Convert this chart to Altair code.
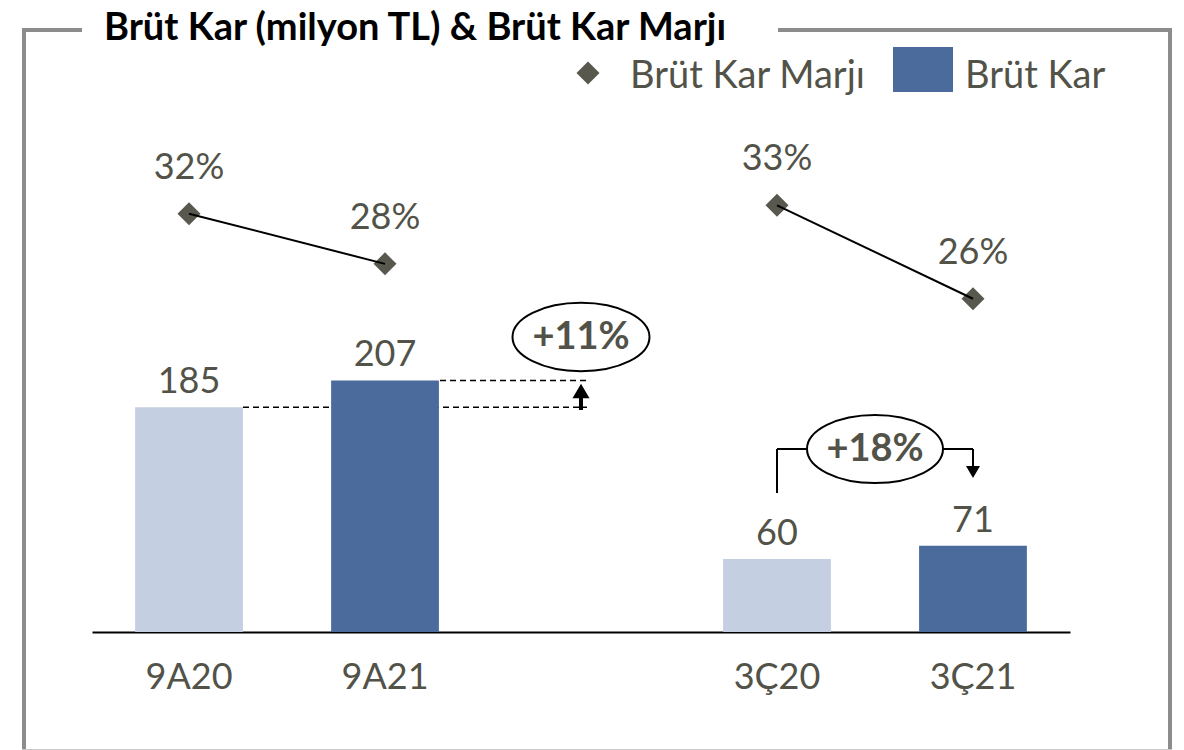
import altair as alt
import pandas as pd

# ---- data ----
categories = ["9A20", "9A21", " ", "3Ç20", "3Ç21"]
bar_periods = ["9A20", "9A21", "3Ç20", "3Ç21"]
bar_values = [185, 207, 60, 71]
bar_years = ["2020", "2021", "2020", "2021"]
margin_values = [32.0, 28.4, 32.6, 25.9]
margin_labels = ["32%", "28%", "33%", "26%"]
margin_groups = ["9A", "9A", "3Ç", "3Ç"]
change_labels = ["+11%", "+18%"]
title_text = "Brüt Kar (milyon TL) & Brüt Kar Marjı"
legend_labels = ["Brüt Kar Marjı", "Brüt Kar"]

TXT = "#525248"
FONT = "Lato"

bars_df = pd.DataFrame({"period": bar_periods, "value": bar_values, "year": bar_years})
margin_df = pd.DataFrame({"period": bar_periods, "m": margin_values,
                          "lab": margin_labels, "grp": margin_groups})
one = pd.DataFrame({"k": [0]})

x_enc = alt.X(
    "period:N",
    sort=categories,
    scale=alt.Scale(domain=categories, paddingInner=0.45, paddingOuter=0.22),
    axis=alt.Axis(title=None, labelFontSize=36, labelColor=TXT, labelFont=FONT,
                  ticks=False, tickSize=0, labelPadding=56, labelBaseline="alphabetic",
                  domainColor="black", domainWidth=2, labelAngle=0, grid=False),
)
y_bar = alt.Y("value:Q", scale=alt.Scale(domain=[0, 413]), axis=None)
y_m = alt.Y("m:Q", scale=alt.Scale(domain=[2, 38]), axis=None)

base_b = alt.Chart(bars_df)

dash_lo = base_b.transform_filter(alt.datum.period == "9A20").mark_rule(
    color="black", strokeWidth=1.5, strokeDash=[6, 4]
).encode(y=y_bar, x=alt.value(151), x2=alt.value(495))
dash_hi = base_b.transform_filter(alt.datum.period == "9A21").mark_rule(
    color="black", strokeWidth=1.5, strokeDash=[6, 4]
).encode(y=y_bar, x=alt.value(348), x2=alt.value(495))

bars = base_b.mark_bar().encode(
    x=x_enc, y=y_bar,
    color=alt.Color("year:N", scale=alt.Scale(domain=["2020", "2021"],
                                              range=["#c4cfe1", "#4a6b9b"]), legend=None),
)
bar_text = base_b.mark_text(dy=-14, baseline="alphabetic", fontSize=36, font=FONT,
                            color=TXT).encode(x=x_enc, y=y_bar, text="value:Q")

ELL = "M-1,0A1,0.5,0,1,0,1,0A1,0.5,0,1,0,-1,0Z"

def ellipse(xp, yp, w):
    return alt.Chart(one).mark_point(shape=ELL, filled=True, fill="white", stroke="black",
                                     strokeWidth=2, opacity=1, size=w * w).encode(
        x=alt.value(xp), y=alt.value(yp))

def label(txt, xp, yp):
    return alt.Chart(pd.DataFrame({"t": [txt]})).mark_text(
        fontSize=38, font=FONT, fontWeight="bold", color=TXT, baseline="middle",
        align="center").encode(x=alt.value(xp), y=alt.value(yp), text="t:N")

def hrule(x1, x2, y, w=2, color="black"):
    return alt.Chart(one).mark_rule(color=color, strokeWidth=w).encode(
        x=alt.value(x1), x2=alt.value(x2), y=alt.value(y))

def vrule(x, y1, y2, w=2, color="black"):
    return alt.Chart(one).mark_rule(color=color, strokeWidth=w).encode(
        x=alt.value(x), y=alt.value(y1), y2=alt.value(y2))

def tri(shape, xp, yp, size):
    return alt.Chart(one).mark_point(shape=shape, filled=True, color="black", opacity=1,
                                     size=size).encode(x=alt.value(xp), y=alt.value(yp))

annot = [
    ellipse(489, 207, 137), label(change_labels[0], 489, 208),
    vrule(489, 266, 280, w=4), tri("triangle-up", 489, 261, 289),
    vrule(685, 363, 319), hrule(685, 716, 319), hrule(851, 881, 319),
    vrule(881, 319, 339), tri("triangle-down", 881, 342, 196),
    ellipse(783, 319, 136), label(change_labels[1], 783, 320),
]

# frame, title, legend
FR = "#8c8c8c"
frame = [
    vrule(-68, -100, 700, w=4, color=FR), vrule(1078, -100, 700, w=4, color=FR),
    hrule(-70, -10, -100, w=4, color=FR), hrule(686, 1080, -100, w=4, color=FR),
    hrule(-70, 1080, 619.5, w=1, color="#c8c8c8"),
]
title = alt.Chart(pd.DataFrame({"t": [title_text]})).mark_text(
    fontSize=38, font=FONT, fontWeight="bold", color="black", align="left",
    baseline="alphabetic").encode(x=alt.value(12), y=alt.value(-90), text="t:N")

leg_diamond = alt.Chart(one).mark_point(shape="diamond", filled=True, color="#58584e",
                                        opacity=1, size=529).encode(
    x=alt.value(496), y=alt.value(-57))
leg_square = alt.Chart(one).mark_rect(color="#4a6b9b").encode(
    x=alt.value(801), x2=alt.value(861), y=alt.value(-83), y2=alt.value(-38))
leg_t1 = alt.Chart(pd.DataFrame({"t": [legend_labels[0]]})).mark_text(
    fontSize=38, font=FONT, color=TXT, align="left", baseline="alphabetic").encode(
    x=alt.value(538), y=alt.value(-42), text="t:N")
leg_t2 = alt.Chart(pd.DataFrame({"t": [legend_labels[1]]})).mark_text(
    fontSize=38, font=FONT, color=TXT, align="left", baseline="alphabetic").encode(
    x=alt.value(873), y=alt.value(-42), text="t:N")

bar_group = alt.layer(dash_lo, dash_hi, bars, bar_text, *annot, *frame, title,
                      leg_diamond, leg_square, leg_t1, leg_t2)

base_m = alt.Chart(margin_df)
m_points = base_m.mark_point(shape="diamond", filled=True, size=529, color="#58584e",
                             opacity=1).encode(x=x_enc, y=y_m)
m_line = base_m.mark_line(color="black", strokeWidth=2).encode(x=x_enc, y=y_m,
                                                               detail="grp:N")
m_text = base_m.mark_text(dy=-35, baseline="alphabetic", fontSize=36, font=FONT,
                          color=TXT).encode(x=x_enc, y=y_m, text="lab:N")
margin_group = alt.layer(m_points, m_line, m_text)

chart = alt.layer(bar_group, margin_group).resolve_scale(y="independent").properties(
    width=978, height=502,
    autosize=alt.AutoSizeParams(type="none"),
    padding={"left": 84, "top": 122, "right": 106, "bottom": 118},
).configure_view(stroke=None)

chart.save("out.html", embed_options={"renderer": "svg", "actions": False})
